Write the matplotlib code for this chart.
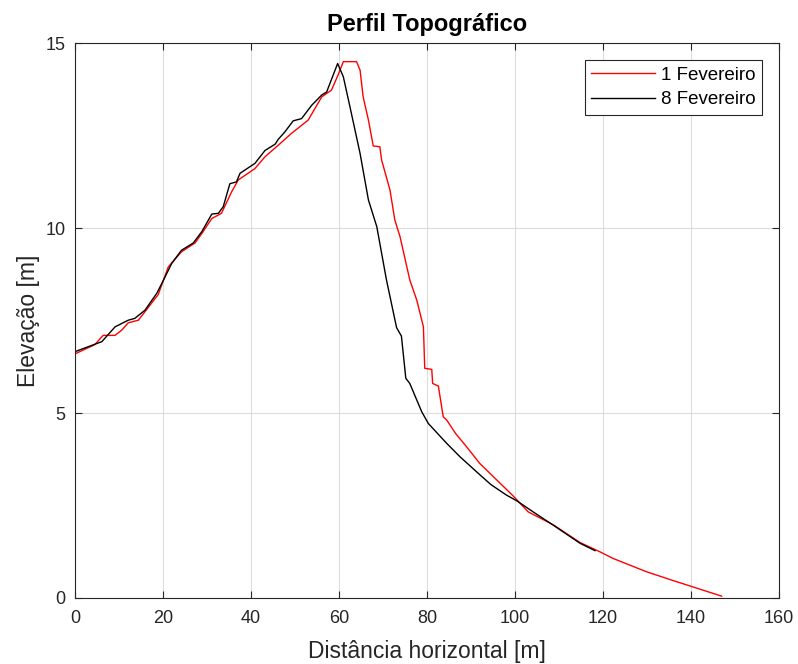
import matplotlib.pyplot as plt

plt.rcParams['font.family'] = ['Liberation Sans', 'DejaVu Sans']

# Perfil de 1 Fevereiro (vermelho)
x_fev1 = [0, 4.5, 6.4, 9.1, 10.6, 12.1, 14.4, 15.9, 18.9, 21.2, 24.2, 27.3, 28.8,
          31.1, 33.3, 35.6, 37.1, 40.9, 43.2, 46.2, 49.2, 53.0, 56.1, 58.3, 59.8,
          61.0, 64.0, 64.8, 65.5, 66.7, 67.8, 69.3, 69.7, 71.6, 72.7, 73.9, 76.1,
          77.7, 79.2, 79.5, 81.1, 81.3, 82.6, 83.7, 84.5, 86.5, 89.0, 92.0, 95.1,
          99.6, 103.0, 108.7, 114.8, 119.3, 122.3, 129.9, 136.0, 140.2, 147.0]
y_fev1 = [6.6, 6.85, 7.1, 7.1, 7.24, 7.44, 7.51, 7.74, 8.2, 8.95, 9.36, 9.6, 9.85,
          10.26, 10.4, 10.98, 11.3, 11.61, 11.93, 12.24, 12.56, 12.92, 13.55, 13.73,
          14.14, 14.5, 14.5, 14.27, 13.55, 12.92, 12.22, 12.2, 11.84, 11.03, 10.22,
          9.76, 8.6, 8.05, 7.33, 6.21, 6.18, 5.8, 5.73, 4.9, 4.81, 4.45, 4.09, 3.64,
          3.28, 2.76, 2.33, 1.98, 1.5, 1.25, 1.07, 0.71, 0.47, 0.31, 0.05]

# Perfil de 8 Fevereiro (preto)
x_fev8 = [0, 4.5, 6.1, 9.1, 12.1, 13.6, 15.9, 18.6, 20.1, 22.0, 24.2, 26.9, 28.8,
          31.1, 32.6, 33.7, 35.2, 36.7, 37.5, 40.9, 43.2, 45.5, 46.2, 47.7, 49.6,
          51.5, 53.8, 56.1, 57.2, 59.7, 61.0, 62.5, 64.8, 66.7, 68.6, 70.8, 73.1,
          74.2, 75.2, 76.1, 78.8, 80.3, 84.5, 87.5, 91.3, 94.5, 98.1, 100.4, 104.5,
          108.7, 114.8, 118.2]
y_fev8 = [6.66, 6.86, 6.93, 7.33, 7.51, 7.56, 7.78, 8.24, 8.59, 9.05, 9.4, 9.6, 9.9,
          10.38, 10.4, 10.58, 11.2, 11.25, 11.48, 11.75, 12.1, 12.27, 12.4, 12.6, 12.9,
          12.96, 13.32, 13.6, 13.68, 14.45, 14.09, 13.28, 12.02, 10.76, 10.04, 8.6,
          7.31, 7.08, 5.94, 5.8, 5.04, 4.72, 4.18, 3.82, 3.41, 3.07, 2.78, 2.63, 2.3,
          1.97, 1.48, 1.28]

fig = plt.figure(figsize=(7.98, 6.64), dpi=100)
ax = fig.add_axes([0.094, 0.0994, 0.882, 0.8356])

ax.plot(x_fev1, y_fev1, color='red', lw=1.0, label='1 Fevereiro')
ax.plot(x_fev8, y_fev8, color='black', lw=1.0, label='8 Fevereiro')

ax.set_xlim(0, 160)
ax.set_ylim(0, 15)
ax.set_xticks(range(0, 161, 20))
ax.set_yticks([0, 5, 10, 15])
ax.grid(True, color='#dcdcdc', lw=0.8)
ax.set_axisbelow(True)
ax.tick_params(direction='in', top=True, right=True, labelsize=13,
               colors='#262626', length=5)
ax.tick_params(axis='x', pad=9)
ax.tick_params(axis='y', pad=7)
for s in ax.spines.values():
    s.set_color('#262626')
    s.set_linewidth(0.8)

ax.set_title('Perfil Topográfico', fontsize=17, fontweight='bold', pad=9)
ax.set_xlabel('Distância horizontal [m]', fontsize=16.5, color='#262626', labelpad=9)
ax.set_ylabel('Elevação [m]', fontsize=16.5, color='#262626', labelpad=4)

leg = ax.legend(loc='upper right', fontsize=13.5, fancybox=False, framealpha=1,
                edgecolor='#262626', handlelength=3.4, borderaxespad=0.9,
                handletextpad=0.3, labelspacing=0.4, borderpad=0.35)
leg.get_frame().set_linewidth(0.8)

fig.savefig('out.png', dpi=100)
